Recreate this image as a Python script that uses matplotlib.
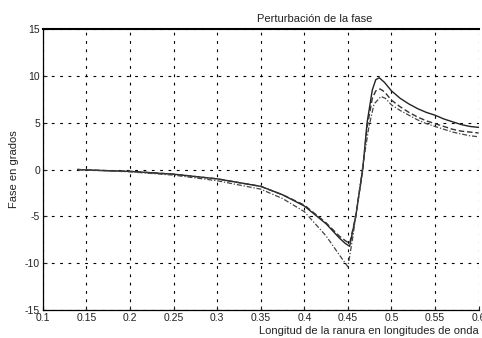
import matplotlib
matplotlib.use('Agg')
import matplotlib.pyplot as plt

# Curve data (x in wavelengths, y in degrees)
x_solid = [0.14, 0.15, 0.2, 0.25, 0.3, 0.35, 0.375, 0.4, 0.425, 0.44, 0.447, 0.452, 0.459, 0.467,
           0.472, 0.478, 0.482, 0.486, 0.492, 0.5, 0.51, 0.52, 0.53, 0.54, 0.55, 0.56, 0.57,
           0.58, 0.59, 0.6]
y_solid = [0, -0.05, -0.2, -0.5, -1.0, -1.8, -2.7, -3.9, -5.8, -7.3, -7.9, -8.2, -5, 0,
           5, 8.5, 9.6, 9.8, 9.3, 8.4, 7.6, 7.0, 6.5, 6.1, 5.8, 5.4, 5.1,
           4.8, 4.6, 4.5]

x_dash = [0.14, 0.15, 0.2, 0.25, 0.3, 0.35, 0.375, 0.4, 0.425, 0.44, 0.447, 0.452, 0.459, 0.467,
          0.472, 0.478, 0.482, 0.487, 0.492, 0.5, 0.51, 0.52, 0.53, 0.54, 0.55, 0.56, 0.57,
          0.58, 0.59, 0.6]
y_dash = [0, -0.05, -0.2, -0.5, -1.0, -1.8, -2.7, -3.8, -5.7, -7.1, -7.6, -7.9, -5, 0,
          4.5, 7.6, 8.4, 8.6, 8.3, 7.4, 6.7, 6.1, 5.6, 5.2, 4.9, 4.6, 4.3,
          4.1, 4.0, 3.9]

x_dot = [0.14, 0.15, 0.2, 0.25, 0.3, 0.35, 0.375, 0.4, 0.425, 0.44, 0.45, 0.456, 0.462,
         0.468, 0.474, 0.48, 0.488, 0.493, 0.5, 0.51, 0.52, 0.53, 0.54, 0.55, 0.56, 0.57,
         0.58, 0.59, 0.6]
y_dot = [0, -0.05, -0.25, -0.6, -1.2, -2.1, -3.1, -4.5, -7.1, -9.1, -10.4, -7, -3,
         1, 4.5, 7, 7.8, 7.6, 6.9, 6.3, 5.8, 5.3, 4.9, 4.6, 4.3, 4.0,
         3.8, 3.6, 3.5]

xticks = [0.1, 0.15, 0.2, 0.25, 0.3, 0.35, 0.4, 0.45, 0.5, 0.55, 0.6]
xtick_labels = ['0.1', '0.15', '0.2', '0.25', '0.3', '0.35', '0.4', '0.45', '0.5', '0.55', '0.6']
yticks = [-15, -10, -5, 0, 5, 10, 15]

plt.rcParams['font.family'] = ['Liberation Sans', 'DejaVu Sans']
plt.rcParams['axes.unicode_minus'] = False

fig = plt.figure(figsize=(4.82, 3.38), dpi=100)
ax = fig.add_axes([0.089, 0.083, 0.904, 0.831])

ax.plot(x_solid, y_solid, color='#222222', linewidth=1.0, linestyle='-')
ax.plot(x_dash, y_dash, color='#333333', linewidth=1.0, linestyle=(0, (4, 2)))
ax.plot(x_dot, y_dot, color='#444444', linewidth=0.9, linestyle=(0, (4, 1.5, 1, 1.5)))

ax.set_xlim(0.1, 0.6)
ax.set_ylim(-15, 15)
ax.set_xticks(xticks)
ax.set_xticklabels(xtick_labels)
ax.set_yticks(yticks)
ax.grid(True, color='black', linestyle=(0, (2.5, 5)), linewidth=0.8)
ax.tick_params(direction='in', length=3, labelsize=7.5, pad=2, colors='#222222')

for side in ['left', 'bottom']:
    ax.spines[side].set_linewidth(0.9)
ax.spines['top'].set_linewidth(1.5)
ax.spines['right'].set_visible(False)

ax.set_title('Perturbación de la fase', fontsize=8, pad=5, x=0.624, color='#222222')
ax.set_ylabel('Fase en grados', fontsize=8, labelpad=4, color='#222222')
ax.set_xlabel('Longitud de la ranura en longitudes de onda', fontsize=8, labelpad=2.5,
              loc='right', color='#222222')

fig.savefig('out.png', dpi=100)
